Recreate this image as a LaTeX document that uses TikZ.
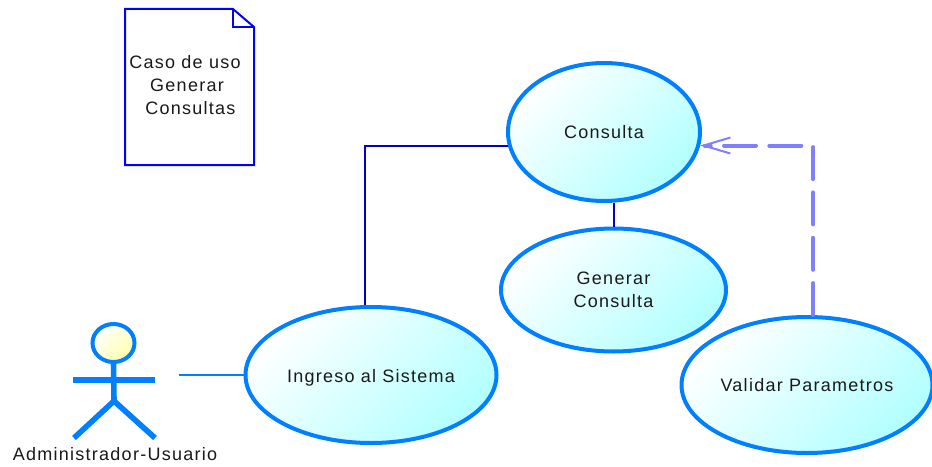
\documentclass[tikz,border=0pt]{standalone}
\usepackage{fontspec}
\setmainfont[LetterSpace=7]{Liberation Sans}
\usetikzlibrary{shapes.geometric,arrows.meta}
\definecolor{bordeazul}{RGB}{0,128,255}
\definecolor{lineaazul}{RGB}{0,0,200}
\definecolor{notaazul}{RGB}{0,0,255}
\definecolor{lila}{RGB}{128,128,255}
\definecolor{celeste}{RGB}{178,255,255}
\definecolor{crema}{RGB}{255,255,170}
\begin{document}
\begin{tikzpicture}[
    x=0.75pt, y=-0.75pt,
    every node/.style={font=\fontsize{13.5pt}{17pt}\selectfont, text=black!90},
    caso/.style={ellipse, draw=bordeazul, line width=3pt, inner sep=0pt, align=center,
        shading=axis, left color=white, right color=celeste, shading angle=45},
    cabeza/.style={ellipse, draw=bordeazul, line width=3pt, inner sep=0pt,
        shading=axis, left color=white, right color=crema, shading angle=45},
    cuerpo/.style={draw=bordeazul, line width=4.2pt},
    asoc/.style={draw=lineaazul, line width=1.5pt},
    asocfina/.style={draw=bordeazul, line width=1.1pt},
    depend/.style={draw=lila, line width=3pt, line cap=round, dash pattern=on 24pt off 10pt,
        -{Straight Barb[length=20pt, width=12pt, line width=1.5pt, line cap=butt]}},
    nota/.style={draw=notaazul, line width=1.5pt, line join=miter}
]
\useasboundingbox (0,0) rectangle (932,467);

% casos de uso
\node[caso, minimum width=192*0.75pt, minimum height=138*0.75pt] (consulta) at (604,132) {Consulta};
\node[caso, minimum width=225*0.75pt, minimum height=123*0.75pt] (generar) at (613.5,290) {Generar\\Consulta};
\node[caso, minimum width=251*0.75pt, minimum height=136*0.75pt, text height=15pt, text depth=3.7pt] (ingreso) at (371,375) {Ingreso al Sistema};
\node[caso, minimum width=251*0.75pt, minimum height=136*0.75pt] (validar) at (807,385) {Validar Parametros};

% nota
\draw[nota] (125,9) -- (233,9) -- (254,27) -- (254,165) -- (125,165) -- cycle;
\draw[nota] (233,9) -- (233,27) -- (254,27);
\node[align=center] (notatexto) at (187,85) {Caso de uso\hspace*{3pt}\\Generar\\\hspace*{5pt}Consultas};

% actor
\node[cabeza, minimum width=42*0.75pt, minimum height=38*0.75pt] (cabezaactor) at (113.5,343) {};
\coordinate (cadera) at (114,401);
\coordinate (brazoizq) at (73,380);
\coordinate (brazoder) at (155,380);
\coordinate (pieizq) at (74,438);
\coordinate (pieder) at (155,438);
\coordinate (actorfin) at (179,375);
\draw[cuerpo] (cabezaactor) ++(0,19) -- (cadera);
\draw[cuerpo] (brazoizq) -- (brazoder);
\draw[cuerpo] (pieizq) -- (cadera) -- (pieder);
\node (actor) at (115,454) {Administrador-Usuario};

% conectores
\draw[asocfina] (actorfin) -- (ingreso.west);
\draw[asoc] (ingreso.95) |- (consulta.188.5);
\draw[asoc] (consulta.south -| generar.north) -- (generar.north);
\draw[depend] (validar.85.5) |- (consulta.-8);
\end{tikzpicture}
\end{document}
